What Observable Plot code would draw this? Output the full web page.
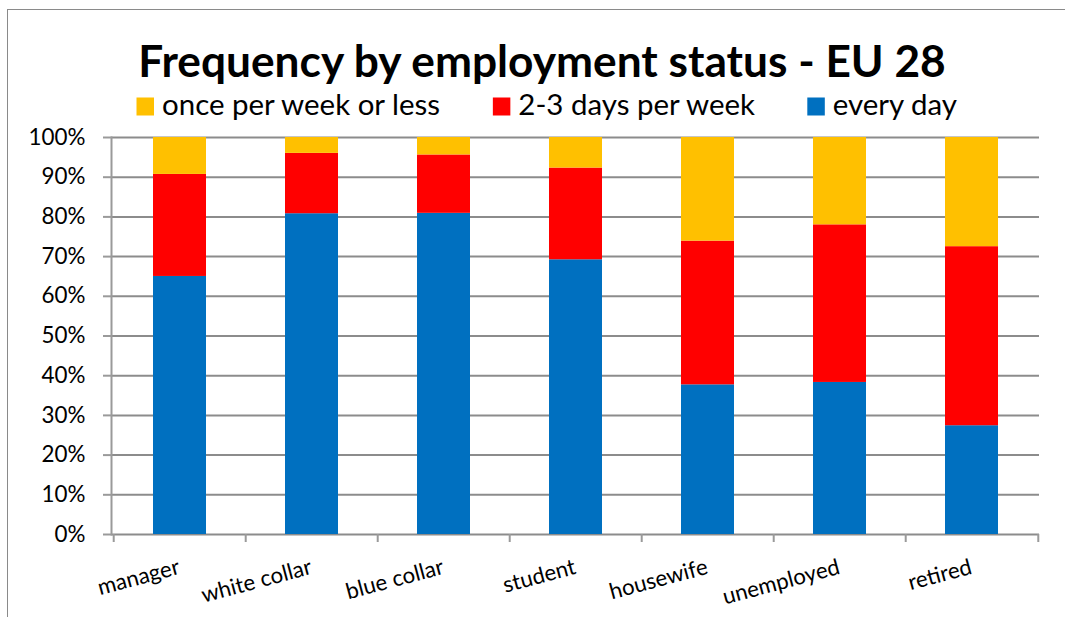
<!DOCTYPE html>
<html><head><meta charset="utf-8">
<script src="https://cdn.jsdelivr.net/npm/d3@7"></script>
<script src="https://cdn.jsdelivr.net/npm/@observablehq/plot@0.6"></script>
<style>
html,body{margin:0;padding:0;width:1065px;height:617px;overflow:hidden;background:#fff;}
#frame{position:absolute;left:7px;top:9px;width:1090px;height:700px;border:1.5px solid #8a8a8a;box-sizing:border-box;}
#head{position:absolute;left:0;top:0;}
#chart{position:absolute;left:0;top:120px;}
</style>
</head><body>
<div id="frame"></div>
<svg id="head" width="1065" height="125"></svg>
<div id="chart"></div>
<script>
// ---- data ----
const categories = ["manager","white collar","blue collar","student","housewife","unemployed","retired"];
const series = ["every day","2-3 days per week","once per week or less"];
const everyDay     = [65.0, 80.8, 80.9, 69.2, 37.7, 38.3, 27.4];
const twoThreeDays = [25.7, 15.2, 14.7, 23.1, 36.2, 39.7, 45.1];
const oncePerWeek  = [ 9.3,  4.0,  4.4,  7.7, 26.1, 22.0, 27.5];
const yTicks = [0,10,20,30,40,50,60,70,80,90,100];
const legendOrder = ["once per week or less","2-3 days per week","every day"];
const colors = ["#0070C0","#FF0000","#FFC000"];
const titleText = "Frequency by employment status - EU 28";

const values = [everyDay, twoThreeDays, oncePerWeek];
const rows = [];
series.forEach((s, si) => categories.forEach((c, ci) => rows.push({category: c, series: s, value: values[si][ci]})));

// font fitting helper
const FONT = "Lato";
const ctx = document.createElement("canvas").getContext("2d");
function fit(text, weight, target) {
  ctx.font = `${weight} 100px ${FONT}`;
  return 100 * target / ctx.measureText(text).width;
}
function measure(text, weight, size) {
  ctx.font = `${weight} ${size}px ${FONT}`;
  return ctx.measureText(text).width;
}
const titleSize = fit(titleText, "bold", 810);
const legendSize = fit("once per week or less", "normal", 280);
const ySize = fit("100%", "normal", 57);
const xSize = fit("manager", "normal", 84);

// ---- title + legend ----
const head = d3.select("#head");
head.append("text").attr("x", 542).attr("y", 76.5).attr("text-anchor", "middle")
  .attr("font-family", FONT).attr("font-weight", "bold").attr("font-size", titleSize).attr("fill", "#000")
  .text(titleText);
const colorOf = s => colors[series.indexOf(s)];
let lx = 136.5;
legendOrder.forEach(s => {
  head.append("rect").attr("x", lx).attr("y", 97.5).attr("width", 17.5).attr("height", 18).attr("fill", colorOf(s));
  head.append("text").attr("x", lx + 25.5).attr("y", 115).attr("font-family", FONT)
    .attr("font-size", legendSize).attr("fill", "#000").text(s);
  lx += 25.5 + measure(s, "normal", legendSize) + 51;
});

// ---- chart ----
const W = 1065, H = 497, ML = 111, MR = 26, MT = 17, MB = 83;
const step = (W - ML - MR) / categories.length;
const chart = Plot.plot({
  width: W, height: H, marginLeft: ML, marginRight: MR, marginTop: MT, marginBottom: MB,
  x: {domain: categories, paddingInner: 0.6, paddingOuter: 0.3, axis: null, label: null},
  y: {domain: [0, 100], axis: null, label: null},
  color: {domain: series, range: colors},
  style: {fontFamily: FONT, color: "#000", background: "transparent", overflow: "visible"},
  marks: [
    Plot.gridY(yTicks, {stroke: "#8c8c8c", strokeOpacity: 1, strokeWidth: 2}),
    Plot.barY(rows, {x: "category", y: "value", fill: "series", order: series}),
    Plot.frame({anchor: "left", stroke: "#9a9a9a", strokeWidth: 2}),
    Plot.axisY(yTicks, {tickSize: 8, tickPadding: 18, stroke: "#9a9a9a", strokeWidth: 2, label: null,
      tickFormat: d => d + "%", fontSize: ySize, fill: "#000"}),
    Plot.axisX(categories, {tickSize: 8, dx: -step / 2, tickFormat: () => "", label: null, stroke: "#9a9a9a", strokeWidth: 2}),
    Plot.axisX([categories[categories.length - 1]], {tickSize: 8, dx: step / 2, tickFormat: () => "", label: null, stroke: "#9a9a9a", strokeWidth: 2}),
    Plot.text(categories, {x: d => d, y: 0, text: d => d, rotate: -15, textAnchor: "end", lineAnchor: "bottom",
      dx: 1, dy: 39, fontSize: xSize, fill: "#000"})
  ]
});
document.getElementById("chart").appendChild(chart);
</script>
</body></html>
